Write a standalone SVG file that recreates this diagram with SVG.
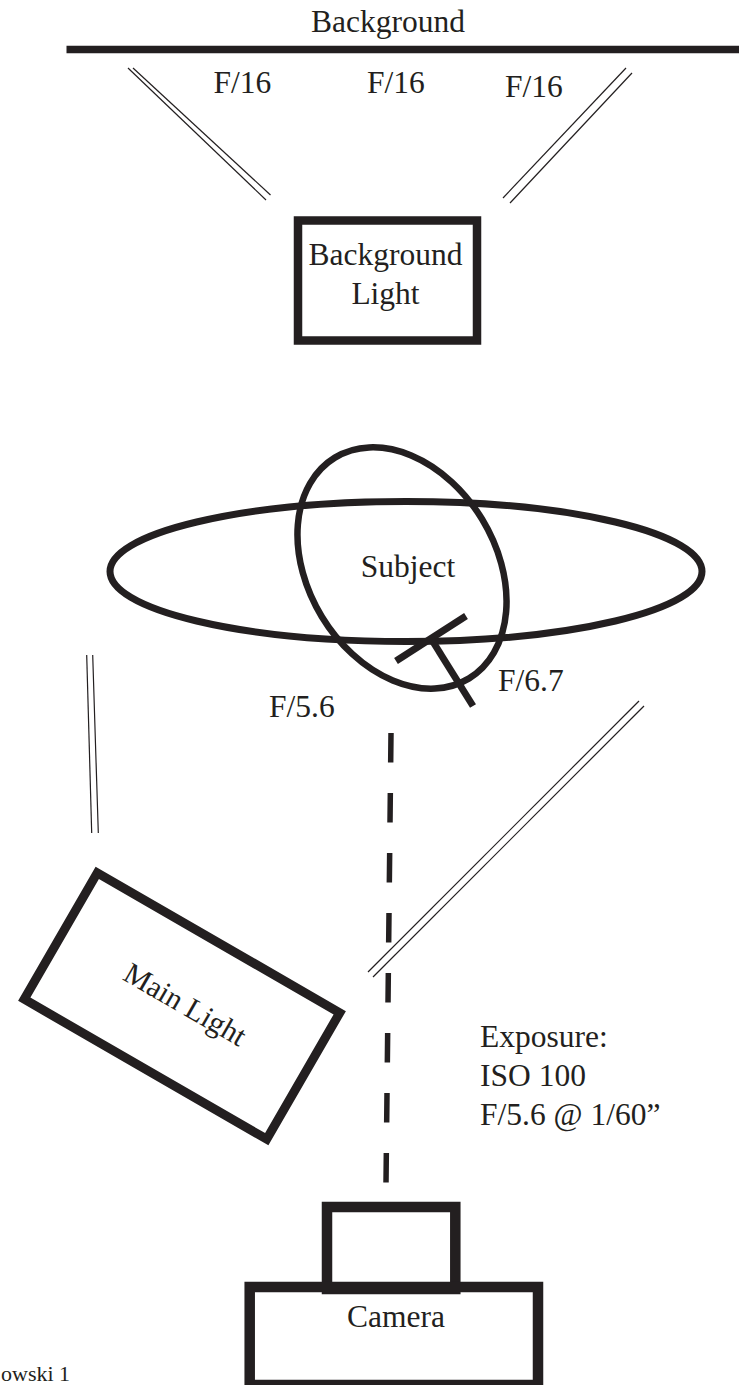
<svg xmlns="http://www.w3.org/2000/svg" width="743" height="1385" viewBox="0 0 743 1385">
<style>
text{font-family:"Liberation Serif","Times New Roman",serif;font-size:31.5px;fill:#231f20}
.thick{fill:none;stroke:#231f20}
.beam{stroke:#231f20;stroke-width:1.2;fill:none}
.mid{text-anchor:middle}
</style>
<rect width="743" height="1385" fill="#fff"/>
<g id="background">
<text class="mid" x="388" y="32">Background</text>
<line class="thick" x1="66.5" y1="49.5" x2="739" y2="49.5" stroke-width="7.6"/>
</g>
<g id="labels-f16">
<text x="213.5" y="93">F/16</text>
<text x="367" y="93">F/16</text>
<text x="505" y="97">F/16</text>
</g>
<g id="background-light">
<rect class="thick" x="298" y="220.5" width="179" height="120" stroke-width="8.5"/>
<text class="mid" x="385.5" y="265">Background</text>
<text class="mid" x="385.5" y="304">Light</text>
</g>
<g id="subject">
<ellipse class="thick" cx="406" cy="571.5" rx="296" ry="70" stroke-width="7"/>
<ellipse class="thick" cx="402" cy="568" rx="93.8" ry="129.2" transform="rotate(-31.3 402 568)" stroke-width="6.5"/>
<line class="thick" x1="396" y1="661" x2="466" y2="616" stroke-width="7"/>
<line class="thick" x1="430" y1="637" x2="473" y2="706" stroke-width="7"/>
<text x="408" y="577" class="mid">Subject</text>
<text x="498" y="690.5">F/6.7</text>
<text x="269" y="717">F/5.6</text>
</g>
<g id="main-light">
<g transform="translate(182 1006) rotate(30)">
<rect class="thick" x="-140" y="-73" width="280" height="146" stroke-width="9"/>
<text class="mid" x="2" y="7" style="font-size:30px">Main Light</text>
</g>
</g>
<g id="exposure">
<text x="480" y="1047">Exposure:</text>
<text x="480" y="1086">ISO 100</text>
<text x="480" y="1124.5">F/5.6 @ 1/60”</text>
</g>
<g id="camera">
<rect class="thick" x="327" y="1207" width="128.3" height="82" stroke-width="10.5"/>
<rect class="thick" x="249.7" y="1287" width="288.3" height="98" stroke-width="10.5"/>
<text class="mid" x="396" y="1327">Camera</text>
</g>
<g id="credit">
<text x="1" y="1381" style="font-size:22px">owski 1</text>
</g>
<g id="connectors">
<line class="beam" x1="128" y1="68" x2="266" y2="200"/>
<line class="beam" x1="133" y1="68" x2="270.5" y2="195"/>
<line class="beam" x1="626" y1="68" x2="503" y2="198"/>
<line class="beam" x1="632" y1="73" x2="510" y2="203"/>
<line class="beam" x1="86.7" y1="655" x2="91.7" y2="833"/>
<line class="beam" x1="92.7" y1="655" x2="98.3" y2="833"/>
<line class="beam" x1="639" y1="701" x2="368" y2="972"/>
<line class="beam" x1="644" y1="706" x2="373" y2="977"/>
<line class="thick" x1="391" y1="733" x2="386" y2="1183" stroke-width="5.5" stroke-dasharray="29.5 30.5"/>
</g>
</svg>
